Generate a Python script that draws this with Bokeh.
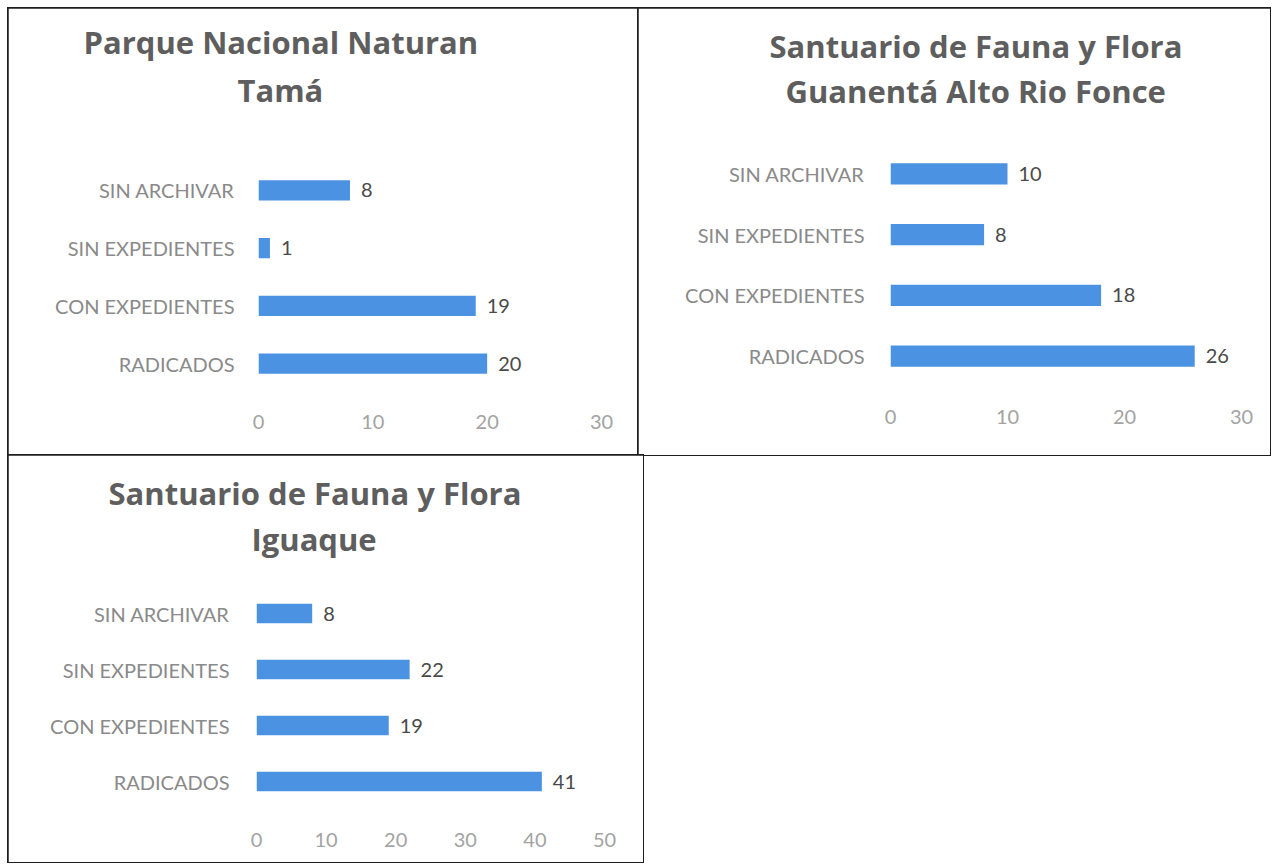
from bokeh.plotting import figure
from bokeh.models import Range1d, FactorRange, Title, ColumnDataSource
from bokeh.layouts import row, column
from bokeh.embed import file_html
from bokeh.resources import INLINE
from bokeh.core.properties import value

# ---- data ----
categories = ["SIN ARCHIVAR", "SIN EXPEDIENTES", "CON EXPEDIENTES", "RADICADOS"]

title_tama = ["Parque Nacional Naturan", "Tamá"]
values_tama = [8, 1, 19, 20]
ticks_tama = [0, 10, 20, 30]

title_guanenta = ["Santuario de Fauna y Flora", "Guanentá Alto Rio Fonce"]
values_guanenta = [10, 8, 18, 26]
ticks_guanenta = [0, 10, 20, 30]

title_iguaque = ["Santuario de Fauna y Flora", "Iguaque"]
values_iguaque = [8, 22, 19, 41]
ticks_iguaque = [0, 10, 20, 30, 40, 50]

BAR = "#4b92e3"
FONT = "Lato"
TFONT = "Open Sans"


def make_panel(titles, vals, ticks, w, h, ml, mr, mt, mb, xstand, ystand,
               title_offsets, title_lift, bar_h):
    p = figure(width=w, height=h, output_backend="svg", toolbar_location=None,
               x_range=Range1d(ticks[0], ticks[-1]),
               y_range=FactorRange(factors=list(reversed(categories)), range_padding=0),
               min_border_left=ml, min_border_right=mr, min_border_top=mt,
               min_border_bottom=mb, title=None)
    p.background_fill_color = "white"
    p.border_fill_color = "white"
    p.outline_line_color = None
    p.xgrid.visible = False
    p.ygrid.visible = False
    src = ColumnDataSource(dict(cat=categories, val=vals, lab=[str(v) for v in vals]))
    p.hbar(y="cat", right="val", left=0, height=bar_h, source=src,
           fill_color=BAR, line_color=None)
    p.text(x="val", y="cat", text="lab", source=src, x_offset=11,
           text_align="left", text_baseline="middle",
           text_font=value(FONT), text_font_size="20px", text_color="#4a4a4a")

    p.xaxis.ticker = ticks
    p.xaxis.axis_line_color = None
    p.xaxis.major_tick_line_color = None
    p.xaxis.minor_tick_line_color = None
    p.xaxis.major_tick_out = 0
    p.xaxis.major_label_standoff = xstand
    p.xaxis.major_label_text_font = FONT
    p.xaxis.major_label_text_font_size = "20px"
    p.xaxis.major_label_text_color = "#a3a3a3"

    p.yaxis.axis_line_color = None
    p.yaxis.major_tick_line_color = None
    p.yaxis.major_tick_out = 0
    p.yaxis.major_label_standoff = ystand
    p.yaxis.major_label_text_font = FONT
    p.yaxis.major_label_text_font_size = "20px"
    p.yaxis.major_label_text_color = "#8a8a8a"

    # second line first (closest to the frame), then first line
    for t, off, lift in reversed(list(zip(titles, title_offsets, title_lift))):
        p.add_layout(Title(text=t, align="left", offset=off, standoff=0,
                           padding=dict(left=0, right=0, top=0, bottom=lift),
                           text_font=TFONT, text_font_style="bold",
                           text_font_size="31px", text_color="#5e5e5e"), "above")
    p.styles = {"outline": "2px solid #1e1e1e", "outline-offset": "-1px"}
    return p


p1 = make_panel(title_tama, values_tama, ticks_tama, 630, 447,
                250, 37, 153, 63, 22, 24, [-175, -21], [4, 51], 0.35)
p2 = make_panel(title_guanenta, values_guanenta, ticks_guanenta, 632, 447,
                252, 29, 135, 69, 23, 26, [-121, -105], [1, 32], 0.35)
p3 = make_panel(title_iguaque, values_iguaque, ticks_iguaque, 635, 407,
                248, 39, 130, 53, 23, 27, [-148, -5], [2, 26], 0.345)

layout = column(row(column(p1), column(p2)), column(p3))
layout.margin = (8, 0, 0, 8)
open("out.html", "w").write(file_html(layout, INLINE))
